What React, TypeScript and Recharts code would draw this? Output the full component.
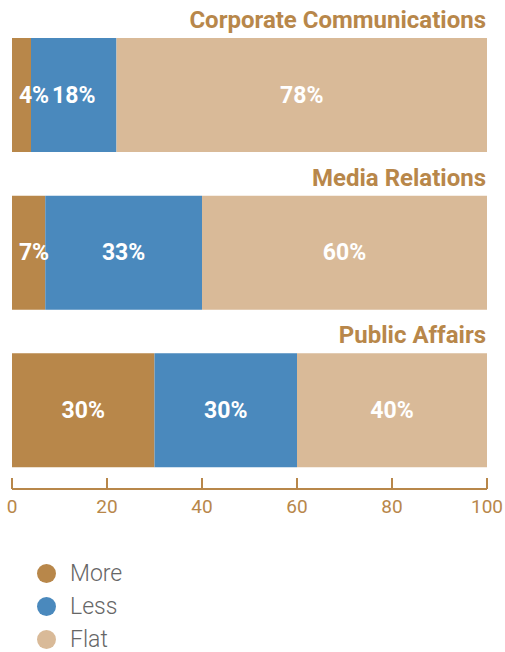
import { Bar, BarChart, LabelList, XAxis, YAxis } from "recharts";

const categories = ["Corporate Communications", "Media Relations", "Public Affairs"];
const moreValues = [4, 7, 30];
const lessValues = [18, 33, 30];
const flatValues = [78, 60, 40];
const xTicks = [0, 20, 40, 60, 80, 100];

const seriesNames = ["More", "Less", "Flat"];
const seriesKeys = ["more", "less", "flat"];
const seriesColors = ["#b8874a", "#4a89bd", "#d9ba98"];

const AXIS = "#b8874a";
const FONT = "Roboto, 'Noto Sans', sans-serif";

const data = categories.map((name, i) => ({
  name,
  more: moreValues[i],
  less: lessValues[i],
  flat: flatValues[i],
}));

function ValueLabel(props: any) {
  const { x, y, width, height, value } = props;
  const half = 22;
  const cx = x + Math.max(width / 2, half);
  return (
    <text
      x={cx}
      y={y + height / 2}
      textAnchor="middle"
      dominantBaseline="central"
      fill="#ffffff"
      fontFamily={FONT}
      fontWeight={700}
      fontSize={23}
    >
      {value}%
    </text>
  );
}

function CategoryLabel(props: any) {
  const { x, y, width, index } = props;
  return (
    <text
      x={x + width - 1}
      y={y - 18}
      textAnchor="end"
      dominantBaseline="central"
      fill={AXIS}
      fontFamily={FONT}
      fontWeight={700}
      fontSize={24}
    >
      {categories[index]}
    </text>
  );
}

function XTick(props: any) {
  const { x, y, payload } = props;
  return (
    <g>
      <line x1={x} x2={x} y1={y - 11} y2={y} stroke={AXIS} strokeWidth={2} />
      <text
        x={x}
        y={y + 17}
        textAnchor="middle"
        dominantBaseline="central"
        fill={AXIS}
        fontFamily={FONT}
        fontSize={19}
      >
        {payload.value}
      </text>
    </g>
  );
}

export default function App() {
  return (
    <div style={{ position: "absolute", left: 0, top: 0, width: 505, height: 652, background: "#fff" }}>
      <BarChart
        width={505}
        height={520}
        data={data}
        layout="vertical"
        margin={{ top: 16, right: 18, left: 12, bottom: 0 }}
      >
        <XAxis
          type="number"
          domain={[0, 100]}
          ticks={xTicks}
          interval={0}
          height={31}
          tickSize={0}
          tickMargin={0}
          tickLine={false}
          axisLine={{ stroke: AXIS, strokeWidth: 2 }}
          tick={<XTick />}
        />
        <YAxis
          type="category"
          dataKey="name"
          width={0}
          tick={false}
          tickLine={false}
          axisLine={{ stroke: AXIS, strokeWidth: 2 }}
        />
        {seriesKeys.map((key, i) => (
          <Bar
            key={key}
            dataKey={key}
            name={seriesNames[i]}
            stackId="a"
            fill={seriesColors[i]}
            barSize={114}
            isAnimationActive={false}
          >
            <LabelList dataKey={key} content={<ValueLabel />} />
            {i === seriesKeys.length - 1 && <LabelList dataKey={key} content={<CategoryLabel />} />}
          </Bar>
        ))}
      </BarChart>
      <div style={{ position: "absolute", left: 37, top: 557 }}>
        {seriesNames.map((name, i) => (
          <div key={name} style={{ display: "flex", alignItems: "center", height: 33 }}>
            <span
              style={{
                display: "inline-block",
                width: 19,
                height: 19,
                borderRadius: "50%",
                background: seriesColors[i],
                marginRight: 14,
              }}
            />
            <span style={{ fontFamily: FONT, fontWeight: 300, fontSize: 23, color: "#666" }}>{name}</span>
          </div>
        ))}
      </div>
    </div>
  );
}
